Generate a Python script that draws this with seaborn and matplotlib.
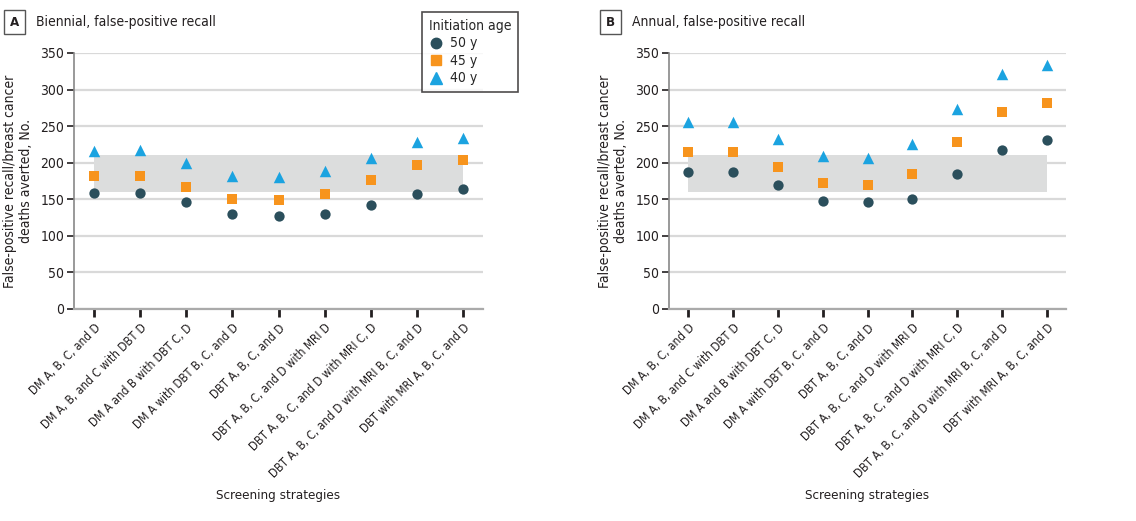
import pandas as pd
import numpy as np
import matplotlib.pyplot as plt
import seaborn as sns

# Screening strategies (x axis)
strategies = [
    'DM A, B, C, and D',
    'DM A, B, and C with DBT D',
    'DM A and B with DBT C, D',
    'DM A with DBT B, C, and D',
    'DBT A, B, C, and D',
    'DBT A, B, C, and D with MRI D',
    'DBT A, B, C, and D with MRI C, D',
    'DBT A, B, C, and D with MRI B, C, and D',
    'DBT with MRI A, B, C, and D',
]
ages = ['50 y', '45 y', '40 y']

# Biennial
biennial_50 = [159, 159, 146, 130, 127, 130, 142, 157, 164]
biennial_45 = [182, 182, 167, 151, 149, 157, 177, 197, 204]
biennial_40 = [216, 217, 199, 182, 180, 188, 207, 228, 234]

# Annual
annual_50 = [187, 187, 170, 148, 146, 151, 184, 217, 231]
annual_45 = [214, 214, 194, 172, 170, 185, 229, 269, 282]
annual_40 = [255, 256, 233, 209, 207, 226, 274, 321, 333]

# shaded reference band
band_lo, band_hi = 160, 211

colors = {'50 y': '#2b4f5c', '45 y': '#f7941d', '40 y': '#1ba3e0'}
markers = {'50 y': 'o', '45 y': 's', '40 y': '^'}
sizes = {'50 y': 55, '45 y': 52, '40 y': 68}


def make_df(v50, v45, v40):
    rows = []
    for age, vals in zip(ages, [v50, v45, v40]):
        for s, v in zip(strategies, vals):
            rows.append({'strategy': s, 'age': age, 'value': v})
    return pd.DataFrame(rows)


sns.set_style('white')
plt.rcParams['font.family'] = ['DejaVu Sans']
plt.rcParams['font.stretch'] = 'condensed'
plt.rcParams['font.size'] = 10

fig = plt.figure(figsize=(11.36, 5.21), dpi=100)
ax_a = fig.add_axes([74 / 1136, 1 - 309 / 521, 409 / 1136, 256 / 521])
ax_b = fig.add_axes([669 / 1136, 1 - 309 / 521, 397 / 1136, 256 / 521])

panels = [
    (ax_a, make_df(biennial_50, biennial_45, biennial_40), 'A', 'Biennial, false-positive recall', 10),
    (ax_b, make_df(annual_50, annual_45, annual_40), 'B', 'Annual, false-positive recall', 606),
]

for ax, df, letter, title, letter_x in panels:
    ax.set_axisbelow(True)
    ax.yaxis.grid(True, color='#d9d9d9', lw=1.6)
    ax.fill_between([0, len(strategies) - 1], band_lo, band_hi,
                    color='#dcdddd', lw=0, zorder=1)
    for age in ages:
        sub = df[df['age'] == age]
        sns.scatterplot(data=sub, x='strategy', y='value', ax=ax,
                        color=colors[age], marker=markers[age], s=sizes[age],
                        linewidth=0, zorder=3, legend=False)
    ax.set_xlim(-0.43, len(strategies) - 1 + 0.43)
    ax.set_ylim(0, 350)
    ax.set_yticks(np.arange(0, 351, 50))
    ax.set_xticks(range(len(strategies)))
    ax.set_xticklabels(strategies, rotation=45, ha='right', rotation_mode='anchor',
                       fontsize=8.6, color='#231f20')
    ax.tick_params(axis='y', labelsize=10, colors='#231f20', length=5, width=1.2,
                   direction='out', left=True, pad=2)
    ax.tick_params(axis='x', length=6, width=2, direction='out', bottom=True,
                   color='#231f20', pad=3)
    for sp in ['top', 'right']:
        ax.spines[sp].set_visible(False)
    ax.spines['left'].set_color('#888888')
    ax.spines['left'].set_linewidth(1.2)
    ax.spines['bottom'].set_color('#aaaaaa')
    ax.spines['bottom'].set_linewidth(1.6)
    ax.set_xlabel('Screening strategies', fontsize=9.6, color='#231f20', labelpad=6)
    ax.set_ylabel('False-positive recall/breast cancer\ndeaths averted, No.',
                  fontsize=10, color='#231f20', labelpad=5)

    # panel letter box + title
    fig.text(letter_x / 1136, 1 - 22 / 521, letter, fontsize=9.5, fontweight='bold',
             va='center', ha='left', color='#231f20',
             bbox=dict(boxstyle='square,pad=0.42', fc='white', ec='#555555', lw=1))
    fig.text((letter_x + 26) / 1136, 1 - 22 / 521, title, fontsize=10, va='center',
             ha='left', color='#231f20')

# legend on panel A
handles = [plt.Line2D([], [], marker=markers[a], color=colors[a], ls='none',
                      markersize=7.5 if a != '40 y' else 8.5) for a in ages]
leg = ax_a.legend(handles, ages, title='Initiation age', loc='upper left',
                  bbox_to_anchor=(422 / 1136, 1 - 12 / 521), bbox_transform=fig.transFigure,
                  frameon=True, fancybox=False, fontsize=10, title_fontsize=10,
                  handletextpad=0.5, labelspacing=0.25, borderpad=0.5,
                  handlelength=1.0, alignment='left', borderaxespad=0)
leg.get_frame().set_edgecolor('#231f20')
leg.get_frame().set_linewidth(1.2)
leg.set_zorder(10)

fig.savefig('out.png', dpi=100)
